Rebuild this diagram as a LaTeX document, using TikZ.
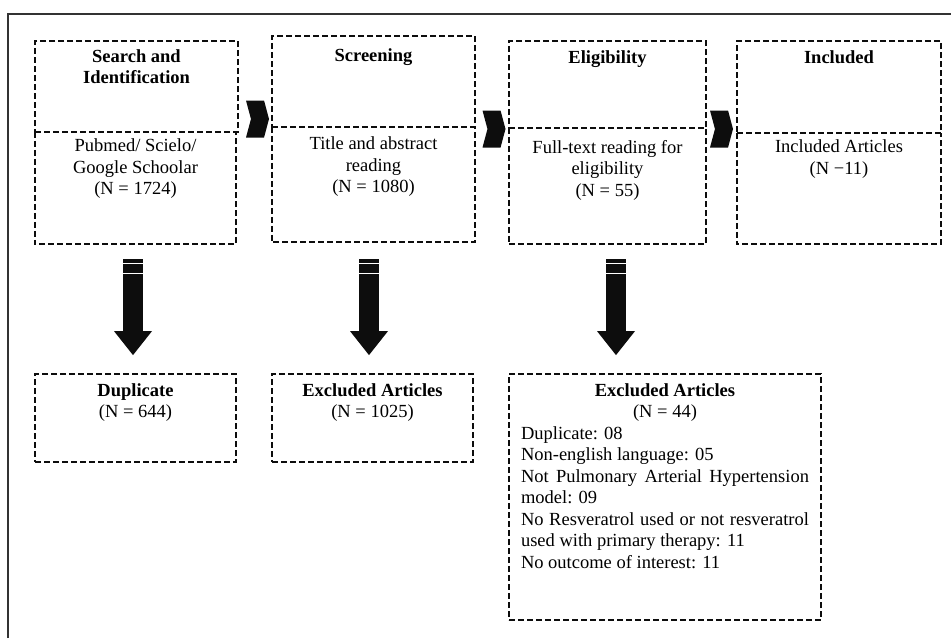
\documentclass[tikz,border=0pt]{standalone}
\usepackage{fontspec}
\setmainfont{Liberation Serif}
\usetikzlibrary{arrows.meta,positioning,fit,calc,shapes.symbols}
\definecolor{cLine}{HTML}{0D0D0D}
\definecolor{cFrame}{HTML}{333333}
\newcommand{\fsz}{\fontsize{18.5}{21.5}\selectfont}
\tikzset{
  dline/.style  = {draw=cLine, line width=1.8pt, dash pattern=on 6pt off 3pt},
  dbox/.style   = {rectangle, dline, inner sep=0pt},
  bbox/.style   = {rectangle, inner sep=0pt},
  txt/.style    = {font=\fsz, align=center, inner sep=0pt},
  hd/.style     = {txt, font=\fsz\bfseries},
  chev/.style   = {signal, signal to=east, signal from=west, signal pointer angle=150,
                   fill=cLine, draw=none, inner sep=0pt, minimum width=23pt, minimum height=37pt},
  fat/.style    = {draw=cLine, line width=20pt, shorten >=18pt,
                   -{Triangle[width=38pt, length=24pt, line width=0pt]}},
  stripe/.style = {draw=white, line width=1.2pt},
  frame/.style  = {draw=cFrame, line width=2pt},
}
\begin{document}
\begin{tikzpicture}[x=1pt, y=-1pt]
  \useasboundingbox (0,0) rectangle (951,638);
  \draw[frame] (8,638) |- (951,14);

  % ---- top row: stages ----
  \node[dbox, fit={(35,41) (238,132)}] (s1h) {};
  \node[bbox, fit={(35,132) (236,244)}] (s1b) {};
  \node[dbox, fit={(272,36) (475,127)}] (s2h) {};
  \node[bbox, fit={(272,127) (475,242)}] (s2b) {};
  \node[dbox, fit={(509,41) (706,128)}] (s3h) {};
  \node[bbox, fit={(509,128) (706,244)}] (s3b) {};
  \node[dbox, fit={(737,41) (941,133)}] (s4h) {};
  \node[bbox, fit={(737,133) (941,244)}] (s4b) {};
  \foreach \b in {s1b,s2b,s3b,s4b}
    \draw[dline] (\b.north west) |- (\b.south east) -- (\b.north east);

  \node[hd, below=9pt of s1h.north] (s1ht) {Search and\\Identification};
  \node[hd, below=13pt of s2h.north] (s2ht) {Screening};
  \node[hd, below=10pt of s3h.north] (s3ht) {Eligibility};
  \node[hd, below=10pt of s4h.north] (s4ht) {Included};

  \node[txt, below=7pt of s1b.north] (s1bt) {Pubmed/ Scielo/\\Google Schoolar\\(N = 1724)};
  \node[txt, below=10pt of s2b.north] (s2bt) {Title and abstract\\reading\\(N = 1080)};
  \node[txt, below=12pt of s3b.north] (s3bt) {Full-text reading for\\eligibility\\(N = 55)};
  \node[txt, below=7pt of s4b.north] (s4bt) {Included Articles\\(N −11)};

  \node[chev] (c1) at (257.5,119) {};
  \node[chev] (c2) at (494,129) {};
  \node[chev] (c3) at (721.5,129) {};

  % ---- bottom row: removed records ----
  \node[dbox, fit={(35,374) (236,462)}] (dup) {};
  \node[dbox, fit={(272,374) (473,462)}] (exa) {};
  \node[dbox, fit={(509,374) (821,620)}] (exb) {};

  \node[txt, below=10pt of dup.north] (dupt) {\textbf{Duplicate}\\(N = 644)};
  \node[txt, below=10pt of exa.north] (exat) {\textbf{Excluded Articles}\\(N = 1025)};
  \node[txt, below=10pt of exb.north, text width=288pt, align=justify] (exbt)
    {{\centering\textbf{Excluded Articles}\\(N = 44)\par}
     Duplicate: 08\\
     Non-english language: 05\\
     Not Pulmonary Arterial Hypertension model: 09\\
     No Resveratrol used or not resveratrol used with primary therapy: 11\\
     No outcome of interest: 11};

  % ---- down arrows ----
  \coordinate (a1) at ($(s1b.south)+(-2.5,15)$);
  \coordinate (a2) at ($(s2b.south)+(-4.5,17)$);
  \coordinate (a3) at ($(s3b.south)+(8.5,15)$);
  \foreach \i/\t in {1/dup,2/exa,3/exb}{
    \draw[fat] (a\i) -- (a\i |- \t.north);
    \draw[stripe] ($(a\i)+(-10,4)$) -- ++(20,0) ($(a\i)+(-10,14)$) -- ++(20,0);
  }
\end{tikzpicture}
\end{document}
